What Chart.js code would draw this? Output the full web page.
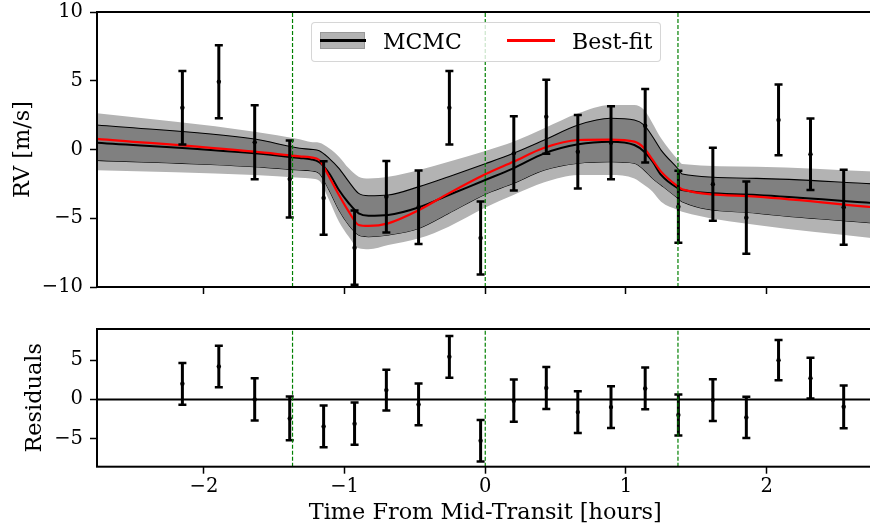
<!DOCTYPE html>
<html lang="en">
<head>
<meta charset="UTF-8">
<title>RV across transit</title>
<script src="https://cdn.jsdelivr.net/npm/chart.js@4.4.1/dist/chart.umd.min.js"></script>
<style>
  body { margin: 0; background: #fff; }
  #wrap { position: relative; width: 870px; height: 529px; overflow: hidden; }
  #top, #bot { position: absolute; left: 0; }
  #top { top: 0; }
  #bot { top: 300px; }
  #legend {
    position: absolute; left: 311px; top: 22px; width: 350px; height: 40px;
    box-sizing: border-box; border: 1px solid rgba(204, 204, 204, 0.8);
    border-radius: 4px; background: rgba(255, 255, 255, 0.8);
  }
  #legend div { position: absolute; }
  #legend .lab { font: 22px/22px 'DejaVu Serif', serif; color: #000; white-space: nowrap; }
</style>
</head>
<body>
<div id="wrap">
  <canvas id="top" width="880" height="300"></canvas>
  <canvas id="bot" width="880" height="229"></canvas>
  <div id="legend">
    <div style="left: 8px; top: 9px; width: 45px; height: 17px; background: #b3b3b3; border: 1px solid #999; box-sizing: border-box;"></div>
    <div style="left: 8px; top: 16px; width: 46px; height: 3px; background: #000;"></div>
    <div class="lab" style="left: 71px; top: 8px;">MCMC</div>
    <div style="left: 195px; top: 16px; width: 48px; height: 3px; background: #f00;"></div>
    <div class="lab" style="left: 260px; top: 8px;">Best-fit</div>
  </div>
</div>

<script>
  // axis ranges and ticks
  const xMin = -2.76, xMax = 2.76;
  const rvMin = -10, rvMax = 10;
  const resMin = -8.6, resMax = 9.0;
  const xTicks = [-2, -1, 0, 1, 2];
  const rvTicks = [-10, -5, 0, 5, 10];
  const resTicks = [-5, 0, 5];

  // ingress, mid-transit, egress
  const transitEdges = [-1.37, 0, 1.37];

  // observations
  const obsTime = [-2.153, -1.894, -1.639, -1.390, -1.149, -0.929, -0.703, -0.474, -0.255, -0.033,
                   0.203, 0.434, 0.658, 0.894, 1.137, 1.373, 1.618, 1.856, 2.085, 2.312, 2.548];
  const obsRV = [3.04, 4.93, 0.52, -2.15, -3.53, -7.14, -3.43, -4.20, 3.04, -6.44,
                 -0.28, 2.39, -0.16, 0.49, 1.73, -4.16, -2.53, -4.96, 2.15, -0.35, -4.20];
  const obsErr = [2.67, 2.66, 2.69, 2.80, 2.67, 2.70, 2.60, 2.67, 2.67, 2.65,
                  2.70, 2.69, 2.67, 2.66, 2.67, 2.62, 2.66, 2.63, 2.57, 2.60, 2.73];
  const residuals = [2.00, 4.21, 0.00, -2.43, -3.45, -3.10, 1.19, -0.64, 5.45, -5.28,
                     -0.17, 1.45, -1.62, -0.98, 1.40, -2.00, -0.09, -2.30, 5.02, 2.72, -0.94];

  // model curves
  const modelTime = [-2.76, -1.64, -1.32, -1.24, -1.18, -1.11, -1.04, -0.97, -0.90, -0.83, -0.69, -0.47, -0.26,
                     0.00, 0.20, 0.42, 0.66, 0.89, 1.06, 1.13, 1.19, 1.25, 1.37, 1.40, 1.93, 2.76];
  const band2Upper = [2.63, 1.30, 0.74, 0.55, 0.50, 0.09, -0.52, -1.37, -1.98, -2.10, -1.98, -1.49, -0.89,
                      -0.10, 0.57, 1.54, 2.63, 3.24, 3.24, 2.87, 1.90, 0.81, -0.75, -1.05, -1.25, -1.60];
  const band1Upper = [1.78, 0.76, 0.09, 0.01, -0.09, -0.64, -1.37, -2.34, -3.19, -3.36, -3.31, -2.70, -1.98,
                      -1.04, -0.28, 0.69, 1.78, 2.27, 2.15, 1.78, 0.93, -0.04, -1.40, -1.78, -2.10, -2.50];
  const mcmcMedian = [0.50, -0.28, -0.62, -0.71, -0.93, -1.73, -2.95, -3.91, -4.64, -4.81, -4.76, -4.20, -3.31,
                      -2.22, -1.37, -0.28, 0.38, 0.57, 0.33, -0.16, -0.89, -1.85, -2.82, -2.95, -3.31, -3.90];
  const bestFit = [0.78, -0.16, -0.50, -0.57, -0.76, -1.98, -3.31, -4.52, -5.49, -5.56, -5.37, -4.40, -3.19,
                   -1.80, -0.89, 0.13, 0.69, 0.72, 0.57, 0.09, -0.76, -1.61, -2.70, -2.90, -3.43, -4.20];
  const band1Lower = [-0.79, -1.25, -1.49, -1.54, -1.73, -2.95, -4.40, -5.49, -6.22, -6.34, -6.22, -5.73, -4.64,
                      -3.25, -2.46, -1.49, -1.00, -0.89, -1.00, -1.49, -2.10, -2.58, -3.55, -3.80, -4.64, -5.35];
  const band2Lower = [-1.50, -1.85, -2.05, -2.10, -2.27, -3.67, -5.25, -6.34, -7.19, -7.26, -6.95, -6.46, -5.61,
                      -4.22, -3.31, -2.39, -1.85, -1.85, -2.10, -2.58, -3.07, -3.80, -4.40, -4.52, -5.49, -6.45];

  const serif = "'DejaVu Serif', serif";
  Chart.defaults.font.family = serif;
  Chart.defaults.color = '#000';

  const fmt = v => (v < 0 ? '\u2212' + Math.abs(v) : String(v));
  const pts = (xs, ys) => xs.map((x, i) => ({ x: x, y: ys[i] }));

  function errorBars(xs, ys, es) {
    const out = [];
    xs.forEach((x, i) => {
      out.push({ x: x, y: ys[i] - es[i] }, { x: x, y: ys[i] + es[i] }, { x: x, y: null });
    });
    return out;
  }

  function vLines(xs, lo, hi) {
    const out = [];
    xs.forEach(x => out.push({ x: x, y: lo }, { x: x, y: hi }, { x: x, y: null }));
    return out;
  }

  // matplotlib style box around the axes
  const frame = {
    id: 'frame',
    afterDraw(chart) {
      const { ctx, chartArea: a } = chart;
      ctx.save();
      ctx.strokeStyle = '#000';
      ctx.lineWidth = 2;
      ctx.strokeRect(a.left, a.top, a.right - a.left, a.bottom - a.top);
      ctx.restore();
    }
  };

  function edgeSet(lo, hi) {
    return {
      data: vLines(transitEdges, lo, hi), borderColor: '#008000', borderWidth: 1.2,
      borderDash: [4, 2], pointRadius: 0, tension: 0
    };
  }
  function barSet(ys) {
    return {
      data: errorBars(obsTime, ys, obsErr), borderColor: '#000', borderWidth: 3, tension: 0,
      pointStyle: 'line', pointRadius: 4, pointBorderWidth: 2.5, pointBorderColor: '#000'
    };
  }
  function dotSet(ys) {
    return {
      data: pts(obsTime, ys), showLine: false, pointRadius: 2.2,
      pointBackgroundColor: '#000', pointBorderWidth: 0
    };
  }
  function curve(ys, color, width, fill, bg) {
    return {
      data: pts(modelTime, ys), borderColor: color, borderWidth: width, pointRadius: 0,
      cubicInterpolationMode: 'monotone', fill: fill || false, backgroundColor: bg || 'transparent'
    };
  }

  // keep the plot box where it is: no extra room for overhanging labels
  function noPad(s) {
    s.paddingTop = 0; s.paddingBottom = 0; s.paddingLeft = 0; s.paddingRight = 0;
  }

  function xAxis(showLabels, height) {
    return {
      type: 'linear', min: xMin, max: xMax,
      afterBuildTicks: s => { s.ticks = xTicks.map(v => ({ value: v })); },
      afterFit: s => { s.height = height; noPad(s); },
      border: { display: false },
      grid: { drawOnChartArea: false, tickLength: 7, tickWidth: 1.5, tickColor: '#000' },
      ticks: { display: showLabels, font: { size: 19.5 }, padding: 2, maxRotation: 0, callback: fmt },
      title: {
        display: showLabels, text: 'Time From Mid-Transit [hours]',
        font: { size: 22.4 }, padding: { top: 0, bottom: 0 }
      }
    };
  }
  function yAxis(min, max, ticks, title, titlePad) {
    return {
      type: 'linear', min: min, max: max,
      afterBuildTicks: s => { s.ticks = ticks.map(v => ({ value: v })); },
      afterFit: s => { s.width = 97; noPad(s); },
      border: { display: false },
      grid: { drawOnChartArea: false, tickLength: 7, tickWidth: 1.5, tickColor: '#000' },
      ticks: { font: { size: 19.5 }, padding: 7, callback: fmt },
      title: { display: true, text: title, font: { size: 22.4 }, padding: { top: titlePad, bottom: 0 } }
    };
  }

  const common = {
    responsive: false, animation: false, devicePixelRatio: 1,
    plugins: { legend: { display: false }, tooltip: { enabled: false } },
    events: []
  };

  new Chart(document.getElementById('top'), {
    type: 'line',
    data: {
      datasets: [
        edgeSet(rvMin, rvMax),
        barSet(obsRV),
        dotSet(obsRV),
        curve(bestFit, '#ff0000', 2.2),
        curve(mcmcMedian, '#000', 2),
        curve(band1Upper, '#000', 1.1, '+1', '#808080'),
        curve(band1Lower, '#000', 1.1),
        curve(band2Upper, 'transparent', 0, '+1', '#b3b3b3'),
        curve(band2Lower, 'transparent', 0)
      ]
    },
    options: Object.assign({}, common, {
      layout: { padding: { left: 0, top: 12, right: 3, bottom: 0 } },
      scales: {
        x: xAxis(false, 13),
        y: yAxis(rvMin, rvMax, rvTicks, 'RV [m/s]', 9.6)
      }
    }),
    plugins: [frame]
  });

  new Chart(document.getElementById('bot'), {
    type: 'line',
    data: {
      datasets: [
        edgeSet(resMin, resMax),
        barSet(residuals),
        dotSet(residuals),
        { data: [{ x: xMin, y: 0 }, { x: xMax, y: 0 }], borderColor: '#000', borderWidth: 2, pointRadius: 0 }
      ]
    },
    options: Object.assign({}, common, {
      layout: { padding: { left: 0, top: 29, right: 3, bottom: 2.6 } },
      scales: {
        x: xAxis(true, 59.7),
        y: yAxis(resMin, resMax, resTicks, 'Residuals', 21.6)
      }
    }),
    plugins: [frame]
  });
</script>
</body>
</html>
